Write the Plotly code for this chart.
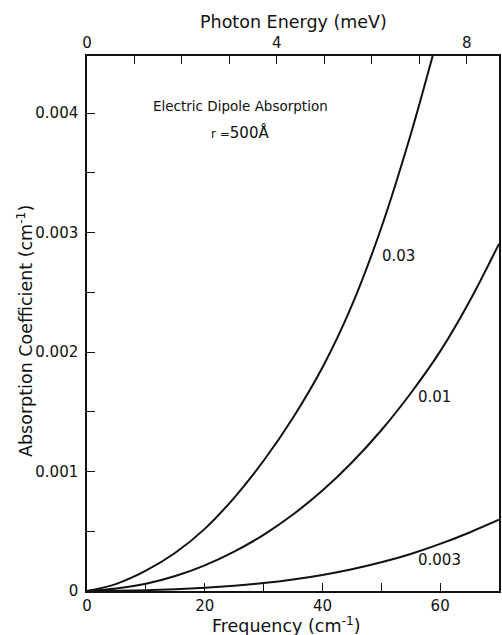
import plotly.graph_objects as go

# Frequency (cm^-1) and absorption coefficient (cm^-1) for the three curves
freq_003 = [0, 5, 10, 15, 20, 25, 30, 35, 40, 45, 50, 55, 58.8, 59.4]
abs_003 = [0, 0.00006, 0.00017, 0.00032, 0.00052, 0.00078, 0.00109, 0.00145,
           0.00187, 0.00239, 0.00304, 0.00382, 0.00449, 0.0046]

freq_001 = [0, 5, 10, 15, 20, 25, 30, 35, 40, 45, 50, 55, 60, 65, 70]
abs_001 = [0, 0.00002, 0.00006, 0.000125, 0.000215, 0.00033, 0.00047, 0.00064,
           0.00084, 0.001075, 0.001345, 0.001655, 0.002005, 0.002425, 0.002905]

freq_0003 = [0, 5, 10, 15, 20, 25, 30, 35, 40, 45, 50, 55, 60, 65, 70]
abs_0003 = [0, 0.000002, 0.000007, 0.000015, 0.000027, 0.000044, 0.000066, 0.000096,
            0.000134, 0.000182, 0.00024, 0.00031, 0.000394, 0.00049, 0.000596]

curve_labels = ["0.03", "0.01", "0.003"]
label_pos = [(49.8, 0.0028), (55.9, 0.00162), (55.9, 0.00026)]

# Tick marks and labels
x_major = [0, 20, 40, 60]
x_major_text = ["0", "20", "40", "60"]
x_minor = [10, 30, 50]
y_major = [0, 0.001, 0.002, 0.003, 0.004]
y_major_text = ["0", "0.001", "0.002", "0.003", "0.004"]
y_minor = [0.0005, 0.0015, 0.0025, 0.0035]
mev_major = [0, 4, 8]
mev_major_text = ["0", "4", "8"]
mev_minor = [1, 2, 3, 5, 6, 7]

X_MAX = 70.0
Y_MAX = 0.004477
CM_PER_MEV = 8.0655

FONT = "DejaVu Sans"
INK = "#111111"

fig = go.Figure()
for xs, ys in [(freq_003, abs_003), (freq_001, abs_001), (freq_0003, abs_0003)]:
    fig.add_trace(go.Scatter(x=xs, y=ys, mode="lines",
                             line=dict(color=INK, width=2, shape="spline", smoothing=1.0),
                             showlegend=False, hoverinfo="skip"))

# invisible trace on the top (meV) axis so it is rendered
fig.add_trace(go.Scatter(x=[0], y=[0], xaxis="x2", mode="markers",
                         marker=dict(opacity=0), showlegend=False, hoverinfo="skip"))

annotations = []
for txt, (lx, ly) in zip(curve_labels, label_pos):
    annotations.append(dict(x=lx, y=ly, xref="x", yref="y", text=txt, showarrow=False,
                            xanchor="left", yanchor="middle",
                            font=dict(family=FONT, size=15, color=INK)))

annotations += [
    dict(x=(241 - 87) / 414, y=(591 - 106) / 535, xref="paper", yref="paper",
         text="Electric Dipole Absorption", showarrow=False,
         xanchor="center", yanchor="middle", font=dict(family=FONT, size=13.5, color=INK)),
    dict(x=(241 - 87) / 414, y=(591 - 132) / 535, xref="paper", yref="paper",
         text="<span style='font-size:12px'>r =</span>500Å", showarrow=False,
         xanchor="center", yanchor="middle", font=dict(family=FONT, size=15, color=INK)),
    dict(x=(287 - 87) / 414, y=0, xref="paper", yref="paper", yshift=-34,
         text="Frequency (cm<sup>-1</sup>)", showarrow=False,
         xanchor="center", yanchor="middle", font=dict(family=FONT, size=17.5, color=INK)),
    dict(x=(295 - 87) / 414, y=1, xref="paper", yref="paper", yshift=34,
         text="Photon Energy (meV)", showarrow=False,
         xanchor="center", yanchor="middle", font=dict(family=FONT, size=17.5, color=INK)),
    dict(x=0, y=(591 - 331) / 535, xref="paper", yref="paper", xshift=-62,
         text="Absorption Coefficient (cm<sup>-1</sup>)", showarrow=False, textangle=-90,
         xanchor="center", yanchor="middle", font=dict(family=FONT, size=17.5, color=INK)),
]

axis_common = dict(showgrid=False, zeroline=False, showline=True, linecolor=INK,
                   linewidth=1.5, ticks="inside", ticklen=8, tickwidth=1.3, tickcolor=INK,
                   tickfont=dict(family=FONT, size=15, color=INK))


def minor_ticks(vals):
    return dict(tickmode="array", tickvals=vals, ticks="inside", ticklen=8,
                tickwidth=1.3, tickcolor=INK, showgrid=False)


fig.update_layout(
    width=502, height=635,
    margin=dict(l=87, r=1, t=56, b=44),
    paper_bgcolor="white", plot_bgcolor="white",
    xaxis=dict(range=[0, X_MAX], tickmode="array", tickvals=x_major, ticktext=x_major_text,
               minor=minor_ticks(x_minor), **axis_common),
    xaxis2=dict(range=[0, X_MAX / CM_PER_MEV], overlaying="x", side="top",
                tickmode="array", tickvals=mev_major, ticktext=mev_major_text,
                minor=minor_ticks(mev_minor), **axis_common),
    yaxis=dict(range=[0, Y_MAX], tickmode="array", tickvals=y_major, ticktext=y_major_text,
               minor=minor_ticks(y_minor), mirror=True, ticklabelstandoff=4, **axis_common),
    annotations=annotations,
)

fig.write_html("out.html")
